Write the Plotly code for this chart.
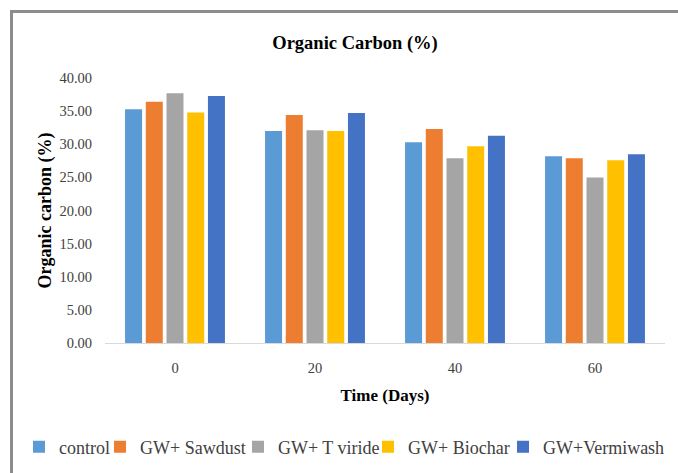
import plotly.graph_objects as go

days = ["0", "20", "40", "60"]
control = [35.3, 32.0, 30.3, 28.2]
sawdust = [36.4, 34.4, 32.3, 27.9]
t_viride = [37.7, 32.1, 27.9, 25.0]
biochar = [34.8, 32.0, 29.7, 27.6]
vermiwash = [37.3, 34.7, 31.3, 28.5]

names = ["control", "GW+ Sawdust", "GW+ T viride", "GW+ Biochar", "GW+Vermiwash"]
values = [control, sawdust, t_viride, biochar, vermiwash]
colors = ["#5B9BD5", "#ED7D31", "#A5A5A5", "#FFC000", "#4472C4"]

FONT = "Liberation Serif"
TEXT_GREY = "#404040"

W, H = 678, 473
L, R, T, B = 105, 13, 78, 130
pw, ph = W - L - R, H - T - B


def px(x):
    return (x - L) / pw


def py(y):
    return (H - B - y) / ph


# one single-entry legend per series so the entries can sit in a tight row
legend_text_x = [59, 140, 278, 408, 543]
legend_keys = ["legend"] + [f"legend{i}" for i in range(2, 6)]

fig = go.Figure()
for name, vals, col, key in zip(names, values, colors, legend_keys):
    fig.add_trace(go.Bar(x=days, y=vals, name=name, marker_color=col,
                         marker_line_width=0, legend=key))

legends = {}
for key, tx in zip(legend_keys, legend_text_x):
    legends[key] = dict(orientation="h", x=px(tx - 40), xanchor="left",
                        y=py(447), yanchor="middle", itemwidth=30,
                        bgcolor="rgba(0,0,0,0)",
                        font=dict(family=FONT, size=18, color=TEXT_GREY))

fig.update_layout(
    width=W, height=H,
    margin=dict(l=L, r=R, t=T, b=B, autoexpand=False),
    paper_bgcolor="white", plot_bgcolor="white",
    font=dict(family=FONT, size=14.5, color=TEXT_GREY),
    barmode="group", bargap=0.26, bargroupgap=0.18,
    showlegend=True,
    title=dict(text="<b>Organic Carbon (%)</b>", x=px(355), xref="paper",
               xanchor="center", y=1 - 43 / H, yanchor="middle",
               font=dict(family=FONT, size=18.5, color="black")),
    shapes=[dict(type="rect", xref="paper", yref="paper",
                 x0=px(11.5), x1=px(700), y0=py(11.5), y1=py(500),
                 line=dict(color="#8c8c8c", width=3), layer="below")],
    **legends,
)

fig.update_xaxes(
    showline=True, linecolor="#d9d9d9", linewidth=1, showgrid=False,
    ticks="", ticklabelstandoff=12, automargin=False,
    tickfont=dict(family=FONT, size=14.5, color=TEXT_GREY),
    title=dict(text="<b>Time (Days)</b>", standoff=13,
               font=dict(family=FONT, size=17, color="black")),
)
fig.update_yaxes(
    range=[0, 40], dtick=5, tickformat=".2f", showgrid=False,
    showline=False, zeroline=False, ticks="", ticklabelstandoff=12,
    automargin=False,
    tickfont=dict(family=FONT, size=14.5, color=TEXT_GREY),
    title=dict(text="<b>Organic carbon (%)</b>", standoff=3,
               font=dict(family=FONT, size=18, color="black")),
)

fig.write_html("out.html")
